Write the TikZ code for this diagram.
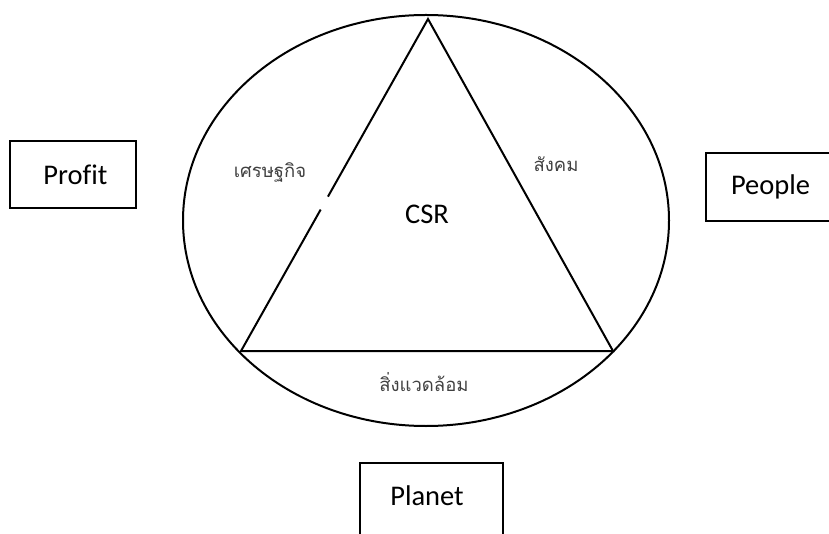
\documentclass[tikz,border=0pt]{standalone}
\usepackage{fontspec}
\setmainfont[Ligatures=CommonOff]{Carlito}
\newfontfamily\thaifont[Script=Thai]{Loma}
\usetikzlibrary{calc,shapes.geometric}
\begin{document}
\begin{tikzpicture}[x=1pt,y=-1pt,
  line/.style={line width=2pt,black},
  labelbox/.style={draw,line width=2.2pt,rectangle,inner sep=0pt,font=\fontsize{28.5}{31}\selectfont},
  thai/.style={font=\thaifont\fontsize{18.5}{21}\selectfont,text=black!75},
  main/.style={font=\fontsize{28.5}{31}\selectfont}]
\useasboundingbox (0,0) rectangle (829,534);
\begin{scope}
\clip (0,0) rectangle (829,534);
% ellipse
\node[line,draw,ellipse,minimum width=486pt,minimum height=411pt,inner sep=0pt] (ell) at (426,220.5) {};
% triangle
\coordinate (top) at (428,19);
\coordinate (bl) at (241,351);
\coordinate (br) at (613,351);
\draw[line,line join=miter] ($(bl)!0.465!(top)$) -- (top) -- (br) -- (bl) -- ($(bl)!0.426!(top)$);
% boxes
\node[labelbox,minimum width=126pt,minimum height=67pt] (profit) at (73,174.5) {\hspace*{5pt}Profit};
\node[labelbox,minimum width=134pt,minimum height=68pt,anchor=west] (people) at (705,187) {\hspace*{-5pt}People};
\node[labelbox,minimum width=143pt,minimum height=100pt,anchor=north west] (planet) at (358.5,462) {};
\node[main] (planett) at (427,496) {Planet};
% texts
\node[main] (csr) at (427,214) {CSR};
\node[thai] (econ) at (270,172) {เศรษฐกิจ};
\node[thai] (soc) at (556,164) {สังคม};
\node[thai] (env) at (424,382) {สิ่งแวดล้อม};
\end{scope}
\end{tikzpicture}
\end{document}
